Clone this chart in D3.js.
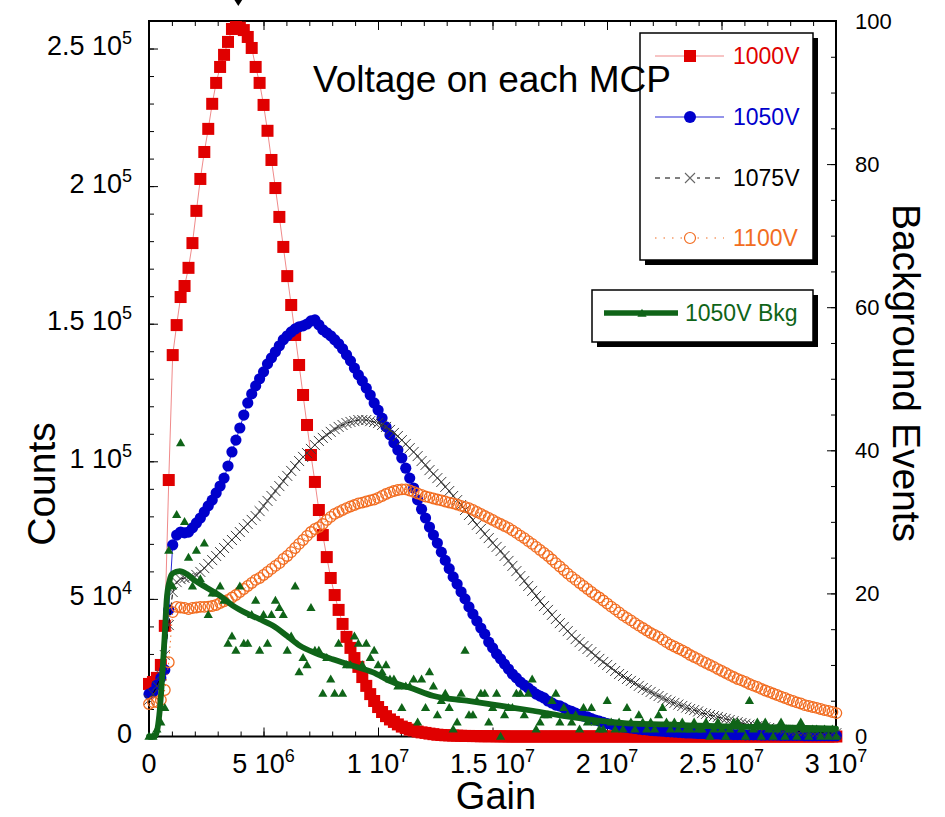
<!DOCTYPE html>
<html>
<head>
<meta charset="utf-8">
<script src="https://cdn.jsdelivr.net/npm/d3@7"></script>
<style>
  body { margin: 0; background: #fff; }
  svg { display: block; font-family: "Liberation Sans", Arial, Helvetica, sans-serif; }
</style>
</head>
<body>
<svg id="chart" width="945" height="817"></svg>
<script>
// ---- histogram binning: gain of bin i = BIN_START + i * BIN_WIDTH ----
const BIN_START = 0;
const BIN_WIDTH = 1.725e5;

// ---- counts per gain bin, in thousands ----
const counts1000V = [
  19.1, 19.8, 21.3, 26.0, 40.2, 93.2, 138.6, 149.5, 159.7, 163.7,
  170.3, 179.3, 191.0, 202.6, 212.4, 220.8, 229.9, 237.5, 243.3, 247.7,
  252.4, 257.1, 257.8, 257.6, 256.7, 254.2, 250.2, 243.3, 237.5, 229.5,
  220.1, 209.5, 199.3, 188.8, 177.9, 167.3, 156.8, 145.9, 135.0, 124.1,
  113.2, 102.3, 92.5, 82.3, 73.2, 65.2, 57.6, 51.4, 46.0, 40.9,
  36.2, 32.2, 28.5, 25.3, 21.6, 18.4, 15.4, 12.9, 10.7, 8.9,
  7.4, 6.2, 5.3, 4.4, 3.6, 3.1, 2.5, 2.2, 1.8, 1.5,
  1.3, 1.05, 0.85, 0.65, 0.55, 0.45, 0.4, 0.35, 0.3, 0.25,
  0.2, 0.2, 0.15, 0.15, 0.1, 0.1, 0.1, 0.1, 0.05, 0.05,
  0.05, 0, 0, 0, 0, 0, 0, 0, 0, 0,
  0, 0, 0, 0, 0, 0, 0, 0, 0, 0,
  0, 0, 0, 0, 0, 0, 0, 0, 0, 0,
  0, 0, 0, 0, 0, 0, 0, 0, 0, 0,
  0, 0, 0, 0, 0, 0, 0, 0, 0, 0,
  0, 0, 0, 0, 0, 0, 0, 0, 0, 0,
  0, 0, 0, 0, 0, 0, 0, 0, 0, 0,
  0, 0, 0, 0, 0, 0, 0, 0, 0, 0,
  0, 0, 0, 0, 0
];

const counts1050V = [
  15.4, 16.2, 18.7, 21.3, 24.2, 46.0, 69.6, 73.2, 74.3, 74.0,
  74.3, 75.8, 77.6, 79.4, 81.6, 83.8, 85.9, 88.5, 91.0, 93.9,
  98.3, 103.4, 107.7, 112.1, 116.8, 121.2, 124.5, 127.4, 130.0, 132.5,
  135.4, 137.6, 139.8, 142.0, 144.2, 145.6, 147.0, 148.1, 148.9, 149.2,
  149.9, 151.0, 151.4, 149.6, 147.8, 146.7, 145.6, 144.2, 142.7, 140.9,
  138.7, 136.5, 133.9, 131.4, 129.2, 126.6, 124.1, 121.2, 118.6, 115.7,
  112.5, 109.6, 106.7, 104.1, 101.2, 97.5, 93.9, 90.3, 86.0, 82.6,
  79.4, 76.1, 73.2, 70.3, 67.0, 64.0, 61.0, 58.0, 55.4, 52.6,
  50.0, 47.1, 44.5, 42.0, 39.4, 37.2, 34.3, 32.2, 30.0, 28.2,
  26.3, 24.5, 22.7, 21.3, 19.8, 18.7, 17.6, 16.5, 15.4, 14.7,
  14.0, 12.9, 12.2, 11.4, 11.1, 10.4, 9.6, 9.1, 8.5, 8.0,
  7.4, 7.1, 6.5, 6.0, 5.6, 5.1, 4.7, 4.4, 4.0, 3.6,
  3.5, 3.3, 3.1, 2.9, 2.7, 2.5, 2.4, 2.2, 2.1, 2.0,
  1.9, 1.8, 1.7, 1.6, 1.5, 1.4, 1.3, 1.3, 1.2, 1.1,
  1.1, 1.0, 1.0, 0.9, 0.9, 0.8, 0.8, 0.8, 0.7, 0.7,
  0.7, 0.6, 0.6, 0.6, 0.6, 0.5, 0.5, 0.5, 0.5, 0.5,
  0.4, 0.4, 0.4, 0.4, 0.4, 0.4, 0.3, 0.3, 0.3, 0.3,
  0.3, 0.3, 0.3, 0.3, 0.3
];

const counts1075V = [
  13.3, 15.4, 18.4, 22.3, 29.6, 40.5, 52.5, 56.1, 57.2, 57.6,
  57.6, 58.0, 58.7, 59.8, 61.2, 62.7, 64.1, 65.6, 67.0, 68.5,
  70.0, 71.4, 72.9, 74.3, 75.8, 77.2, 78.7, 80.1, 81.9, 83.8,
  85.6, 87.4, 89.2, 91.0, 92.8, 94.7, 96.5, 98.3, 100.1, 101.6,
  103.0, 104.5, 105.9, 107.4, 108.5, 109.6, 110.7, 111.7, 112.5, 113.2,
  113.9, 114.3, 114.6, 115.0, 115.0, 115.0, 114.6, 114.3, 113.9, 113.2,
  112.5, 111.4, 110.3, 109.2, 107.7, 106.3, 104.8, 103.4, 101.9, 100.1,
  98.7, 96.8, 95.4, 93.9, 92.5, 90.7, 89.2, 87.4, 85.9, 84.1,
  82.3, 80.5, 78.7, 76.9, 75.4, 73.6, 72.1, 70.3, 68.9, 67.4,
  65.6, 63.8, 62.0, 60.1, 58.3, 56.5, 54.7, 52.9, 51.1, 49.2,
  47.4, 46.0, 44.2, 42.7, 41.2, 39.8, 38.3, 36.9, 35.4, 34.3,
  32.9, 31.8, 30.7, 29.3, 28.2, 27.1, 26.0, 24.9, 23.8, 22.7,
  22.0, 20.9, 20.2, 19.4, 18.4, 17.6, 16.9, 16.2, 15.4, 14.7,
  14.0, 13.3, 12.7, 12.2, 11.6, 11.1, 10.5, 10.0, 9.6, 9.1,
  8.5, 8.2, 7.8, 7.4, 7.1, 6.7, 6.4, 6.0, 5.6, 5.2,
  4.9, 4.6, 4.3, 4.0, 3.8, 3.6, 3.3, 3.1, 2.9, 2.7,
  2.5, 2.4, 2.2, 2.1, 2.0, 1.9, 1.8, 1.7, 1.6, 1.5,
  1.4, 1.4, 1.3, 1.3, 1.2
];

const counts1100V = [
  11.8, 12.5, 12.5, 13.3, 16.9, 27.0, 45.2, 47.1, 46.9, 46.7,
  46.3, 46.7, 46.9, 47.1, 47.1, 47.2, 47.4, 47.8, 48.5, 49.1,
  49.6, 50.5, 51.4, 52.5, 53.6, 54.7, 55.8, 56.9, 57.6, 58.7,
  59.8, 60.9, 62.0, 63.0, 64.5, 65.6, 67.0, 68.5, 70.0, 71.4,
  72.9, 74.3, 75.4, 76.1, 77.2, 78.7, 79.8, 80.9, 81.6, 82.3,
  83.0, 83.6, 84.1, 84.7, 85.0, 85.4, 85.8, 86.1, 86.7, 87.4,
  88.1, 88.7, 89.2, 89.6, 89.8, 89.8, 89.4, 88.9, 88.3, 87.8,
  87.2, 86.9, 86.5, 86.1, 85.8, 85.4, 85.0, 84.7, 84.3, 83.8,
  83.4, 83.0, 82.3, 81.6, 80.9, 80.1, 79.4, 78.7, 77.9, 77.2,
  76.5, 75.8, 74.9, 74.0, 73.0, 72.1, 71.0, 70.0, 68.9, 67.8,
  66.7, 65.6, 64.3, 63.0, 61.8, 60.5, 59.2, 58.0, 56.9, 55.8,
  54.7, 53.6, 52.5, 51.4, 50.5, 49.4, 48.3, 47.2, 46.2, 45.1,
  44.0, 43.1, 42.2, 41.2, 40.3, 39.4, 38.5, 37.6, 36.9, 36.2,
  35.2, 34.3, 33.4, 32.7, 32.0, 31.3, 30.5, 29.6, 28.9, 28.2,
  27.4, 26.7, 26.0, 25.3, 24.5, 23.8, 23.1, 22.3, 21.6, 20.9,
  20.4, 19.8, 19.1, 18.5, 18.0, 17.3, 16.7, 16.2, 15.6, 15.1,
  14.5, 14.0, 13.4, 12.9, 12.4, 12.0, 11.4, 11.1, 10.7, 10.4,
  10.0, 9.6, 9.3, 8.9, 8.5
];

// ---- background events per gain bin (1050V), right axis ----
const bkgEvents1050V = [
  0, 0, 1, 2, 4, 26, 21, 31, 41, 30,
  25, 21, 26, 22, 27, 17, 20, 20, 21, 19,
  13, 14, 12, 21, 13, 13, 17, 19, 12, 17,
  13, 17, 19, 18, 17, 12, 14, 21, 9, 11,
  10, 18, 12, 12, 6, 11, 8, 6, 13, 6,
  10, 10, 14, 13, 10, 13, 11, 12, 10, 9,
  10, 8, 8, 7, 4, 7, 7, 8, 2, 8,
  4, 9, 7, 3, 5, 6, 4, 1, 2, 6,
  12, 3, 3, 5, 6, 6, 2, 4, 6, 0,
  3, 4, 4, 6, 6, 3, 6, 8, 1, 2,
  3, 3, 5, 6, 2, 4, 3, 2, 3, 1,
  4, 2, 4, 2, 1, 1, 5, 2, 1, 2,
  1, 4, 2, 1, 3, 2, 1, 2, 1, 3,
  4, 2, 1, 2, 1, 2, 1, 1, 2, 1,
  1, 2, 0, 1, 2, 1, 0, 1, 2, 2,
  1, 0, 5, 1, 2, 0, 2, 1, 0, 1,
  2, 0, 1, 1, 0, 2, 1, 0, 1, 1,
  0, 1, 0, 1, 0
];

// smoothed background curve: [gain in units of 1e6, events]
const bkgSmooth1050V = [
  [0, 0], [0.25, 0], [0.45, 3], [0.55, 7], [0.69, 14.4], [0.77, 19],
  [0.9, 21.8], [1.03, 22.8], [1.34, 23.1], [1.65, 22.7], [2.0, 21.8],
  [2.52, 20.8], [3.09, 19.7], [3.66, 18.3], [4.27, 17.2], [4.83, 16.4],
  [5.4, 15.5], [6.01, 14.1], [6.58, 12.7], [7.32, 11.6], [8.02, 10.8],
  [8.89, 9.9], [9.76, 9.0], [10.64, 7.6], [11.51, 6.7], [12.39, 5.7],
  [13.87, 5.0], [15.32, 4.3], [16.76, 3.6], [18.24, 2.8], [19.68, 2.2],
  [21.12, 1.8], [22.6, 1.7], [24.04, 1.5], [25.48, 1.4], [26.97, 1.3],
  [30, 1.1]
];

// gain at the arrow above the 1000V peak
const peakArrowGain = 3.9e6;

// ---- tick labels ----
const xTickLabels = [
  { v: 0, m: "0" }, { v: 5e6, m: "5 10", e: "6" }, { v: 1e7, m: "1 10", e: "7" },
  { v: 1.5e7, m: "1.5 10", e: "7" }, { v: 2e7, m: "2 10", e: "7" },
  { v: 2.5e7, m: "2.5 10", e: "7" }, { v: 3e7, m: "3 10", e: "7" }
];
const yTickLabels = [
  { v: 0, m: "0" }, { v: 5e4, m: "5 10", e: "4" }, { v: 1e5, m: "1 10", e: "5" },
  { v: 1.5e5, m: "1.5 10", e: "5" }, { v: 2e5, m: "2 10", e: "5" },
  { v: 2.5e5, m: "2.5 10", e: "5" }
];
const y2TickLabels = [0, 20, 40, 60, 80, 100];

// ---- legend entries ----
const legendEntries = [
  { label: "1000V", text: "#e00000" },
  { label: "1050V", text: "#0000cc" },
  { label: "1075V", text: "#000000" },
  { label: "1100V", text: "#f26d21" }
];
const bkgLegendLabel = "1050V Bkg";

// ---- geometry ----
const svg = d3.select("#chart");
const P = { left: 149, right: 836, top: 21, bottom: 736.5 };

const x = d3.scaleLinear().domain([0, 3e7]).range([P.left, P.right]);
const y = d3.scaleLinear().domain([0, 2.6e5]).range([P.bottom, P.top]);
const y2 = d3.scaleLinear().domain([0, 100]).range([P.bottom, P.top]);

const C = {
  red: "#e00000", redLine: "#f08a8a",
  blue: "#0000cc", blueLine: "#2a2ad6",
  grey: "#3c3c3c",
  orange: "#f26d21",
  green: "#0f6418"
};

const gainOf = i => BIN_START + i * BIN_WIDTH;
const toPoints = arr => arr.map((k, i) => [gainOf(i), k * 1000]);

// ---- axes (ticks pointing inward) ----
function tickAxis(gen, scale, values, size, transform) {
  svg.append("g")
    .attr("transform", transform)
    .call(gen(scale).tickValues(values).tickSize(-size).tickFormat(""))
    .call(g => g.select(".domain").remove())
    .call(g => g.selectAll("line").attr("stroke", "#000").attr("stroke-width", 1));
}
const xMinor = d3.range(0, 3e7 + 1, 1e6), xMajor = d3.range(0, 3e7 + 1, 5e6);
const yMinor = d3.range(0, 2.6e5 + 1, 1e4), yMajor = d3.range(0, 2.6e5 + 1, 5e4);
const y2Minor = d3.range(0, 101, 5), y2Major = d3.range(0, 101, 20);

tickAxis(d3.axisBottom, x, xMinor, 5, `translate(0,${P.bottom})`);
tickAxis(d3.axisBottom, x, xMajor, 9, `translate(0,${P.bottom})`);
tickAxis(d3.axisTop, x, xMinor, 5, `translate(0,${P.top})`);
tickAxis(d3.axisTop, x, xMajor, 9, `translate(0,${P.top})`);
tickAxis(d3.axisLeft, y, yMinor, 5, `translate(${P.left},0)`);
tickAxis(d3.axisLeft, y, yMajor, 9, `translate(${P.left},0)`);
tickAxis(d3.axisRight, y2, y2Minor, 5, `translate(${P.right},0)`);
tickAxis(d3.axisRight, y2, y2Major, 9, `translate(${P.right},0)`);

// frame
svg.append("rect")
  .attr("x", P.left).attr("y", P.top)
  .attr("width", P.right - P.left).attr("height", P.bottom - P.top)
  .attr("fill", "none").attr("stroke", "#000").attr("stroke-width", 2);

// tick labels with "10^n" notation
function powLabel(sel) {
  sel.append("tspan").text(d => d.m);
  sel.filter(d => d.e).append("tspan")
    .attr("font-size", 18).attr("dy", -11).text(d => d.e);
}
svg.append("g").selectAll("text").data(xTickLabels).join("text")
  .attr("x", d => x(d.v)).attr("y", 773)
  .attr("text-anchor", "middle").attr("font-size", 27)
  .call(powLabel);
svg.append("g").selectAll("text").data(yTickLabels).join("text")
  .attr("x", 132).attr("y", d => y(d.v) + 6.5)
  .attr("text-anchor", "end").attr("font-size", 27)
  .call(powLabel);
svg.append("g").selectAll("text").data(y2TickLabels).join("text")
  .attr("x", 855).attr("y", d => y2(d) + 7.5)
  .attr("font-size", 22).text(d => d);

// axis titles
svg.append("text").attr("transform", "translate(55,484) rotate(-90)")
  .attr("text-anchor", "middle").attr("font-size", 39).text("Counts");
svg.append("text").attr("x", 496).attr("y", 809)
  .attr("text-anchor", "middle").attr("font-size", 38).text("Gain");
svg.append("text").attr("transform", "translate(893,373) rotate(90)")
  .attr("text-anchor", "middle").attr("font-size", 39).text("Background Events");

// ---- series ----
const line = d3.line().x(d => x(d[0])).y(d => y(d[1]));

// 1000V: red squares
const p1000 = toPoints(counts1000V);
svg.append("path").attr("d", line(p1000)).attr("fill", "none")
  .attr("stroke", C.redLine).attr("stroke-width", 1);
svg.append("g").selectAll("rect").data(p1000).join("rect")
  .attr("x", d => x(d[0]) - 6).attr("y", d => y(d[1]) - 6)
  .attr("width", 12).attr("height", 12).attr("fill", C.red);

// 1050V: blue filled circles
const p1050 = toPoints(counts1050V);
svg.append("path").attr("d", line(p1050)).attr("fill", "none")
  .attr("stroke", C.blueLine).attr("stroke-width", 1);
svg.append("g").selectAll("circle").data(p1050).join("circle")
  .attr("cx", d => x(d[0])).attr("cy", d => y(d[1])).attr("r", 5.6)
  .attr("fill", C.blue);

// 1075V: dark grey crosses on a dashed black line
const p1075 = toPoints(counts1075V);
svg.append("path").attr("d", line(p1075)).attr("fill", "none")
  .attr("stroke", "#000").attr("stroke-width", 1).attr("stroke-dasharray", "5,3");
svg.append("g").selectAll("path").data(p1075).join("path")
  .attr("transform", d => `translate(${x(d[0])},${y(d[1])})`)
  .attr("d", "M-5,-5L5,5M-5,5L5,-5")
  .attr("stroke", C.grey).attr("stroke-width", 1).attr("fill", "none");

// 1100V: open orange circles on a dotted line
const p1100 = toPoints(counts1100V);
svg.append("path").attr("d", line(p1100)).attr("fill", "none")
  .attr("stroke", C.orange).attr("stroke-width", 1).attr("stroke-dasharray", "1.5,4");
svg.append("g").selectAll("circle").data(p1100).join("circle")
  .attr("cx", d => x(d[0])).attr("cy", d => y(d[1])).attr("r", 5.3)
  .attr("fill", "none").attr("stroke", C.orange).attr("stroke-width", 1.3);

// 1050V background: triangles plus a smoothed thick curve (right axis)
const triPath = "M0,-4.8L4.6,3.2L-4.6,3.2Z";
svg.append("g").selectAll("path").data(bkgEvents1050V).join("path")
  .attr("transform", (d, i) => `translate(${x(gainOf(i))},${y2(d)})`)
  .attr("d", triPath).attr("fill", C.green);
const bkgLine = d3.line()
  .x(d => x(d[0] * 1e6)).y(d => y2(d[1]))
  .curve(d3.curveMonotoneX);
svg.append("path").attr("d", bkgLine(bkgSmooth1050V)).attr("fill", "none")
  .attr("stroke", C.green).attr("stroke-width", 5.8)
  .attr("stroke-linejoin", "round").attr("stroke-linecap", "round");

// arrow pointing at the 1000V peak
svg.append("path")
  .attr("transform", `translate(${x(peakArrowGain)},0)`)
  .attr("d", "M-4.5,-1L4.5,-1L0,6Z").attr("fill", "#000");

// ---- legends ----
function shadowBox(x0, y0, w, h) {
  svg.append("rect").attr("x", x0 + 5).attr("y", y0 + 5).attr("width", w).attr("height", h)
    .attr("fill", "#000");
  svg.append("rect").attr("x", x0).attr("y", y0).attr("width", w).attr("height", h)
    .attr("fill", "#fff").attr("stroke", "#000").attr("stroke-width", 1.5);
}

shadowBox(640, 33, 173, 227);
const legRowY = [56, 117, 178, 238];
const lg = svg.append("g");
// 1000V
lg.append("line").attr("x1", 655).attr("x2", 724).attr("y1", legRowY[0]).attr("y2", legRowY[0])
  .attr("stroke", C.redLine).attr("stroke-width", 1.2);
lg.append("rect").attr("x", 684).attr("y", legRowY[0] - 6).attr("width", 12).attr("height", 12)
  .attr("fill", C.red);
// 1050V
lg.append("line").attr("x1", 655).attr("x2", 724).attr("y1", legRowY[1]).attr("y2", legRowY[1])
  .attr("stroke", C.blueLine).attr("stroke-width", 1.2);
lg.append("circle").attr("cx", 690).attr("cy", legRowY[1]).attr("r", 6).attr("fill", C.blue);
// 1075V
lg.append("line").attr("x1", 655).attr("x2", 724).attr("y1", legRowY[2]).attr("y2", legRowY[2])
  .attr("stroke", "#000").attr("stroke-width", 1).attr("stroke-dasharray", "5,5");
lg.append("rect").attr("x", 683).attr("y", legRowY[2] - 4).attr("width", 14).attr("height", 8)
  .attr("fill", "#fff");
lg.append("path").attr("transform", `translate(690,${legRowY[2]})`)
  .attr("d", "M-5,-5L5,5M-5,5L5,-5").attr("stroke", "#666").attr("stroke-width", 1.1);
// 1100V
lg.append("line").attr("x1", 655).attr("x2", 724).attr("y1", legRowY[3]).attr("y2", legRowY[3])
  .attr("stroke", C.orange).attr("stroke-width", 1.2).attr("stroke-dasharray", "1.5,7");
lg.append("circle").attr("cx", 690).attr("cy", legRowY[3]).attr("r", 5.5)
  .attr("fill", "#fff").attr("stroke", C.orange).attr("stroke-width", 1.2);
lg.selectAll("text.lab").data(legendEntries).join("text").attr("class", "lab")
  .attr("x", 733).attr("y", (d, i) => legRowY[i] + 8.3)
  .attr("font-size", 23).attr("fill", d => d.text).text(d => d.label);

shadowBox(592, 290, 221, 52);
svg.append("line").attr("x1", 604).attr("x2", 678).attr("y1", 313).attr("y2", 313)
  .attr("stroke", C.green).attr("stroke-width", 5.5);
svg.append("path").attr("transform", "translate(642,313.5)").attr("d", triPath)
  .attr("fill", C.green);
svg.append("text").attr("x", 685).attr("y", 321.3).attr("font-size", 23)
  .attr("fill", C.green).text(bkgLegendLabel);

// title
svg.append("text").attr("x", 313).attr("y", 92).attr("font-size", 37)
  .attr("fill", "#000").text("Voltage on each MCP");
</script>
</body>
</html>
